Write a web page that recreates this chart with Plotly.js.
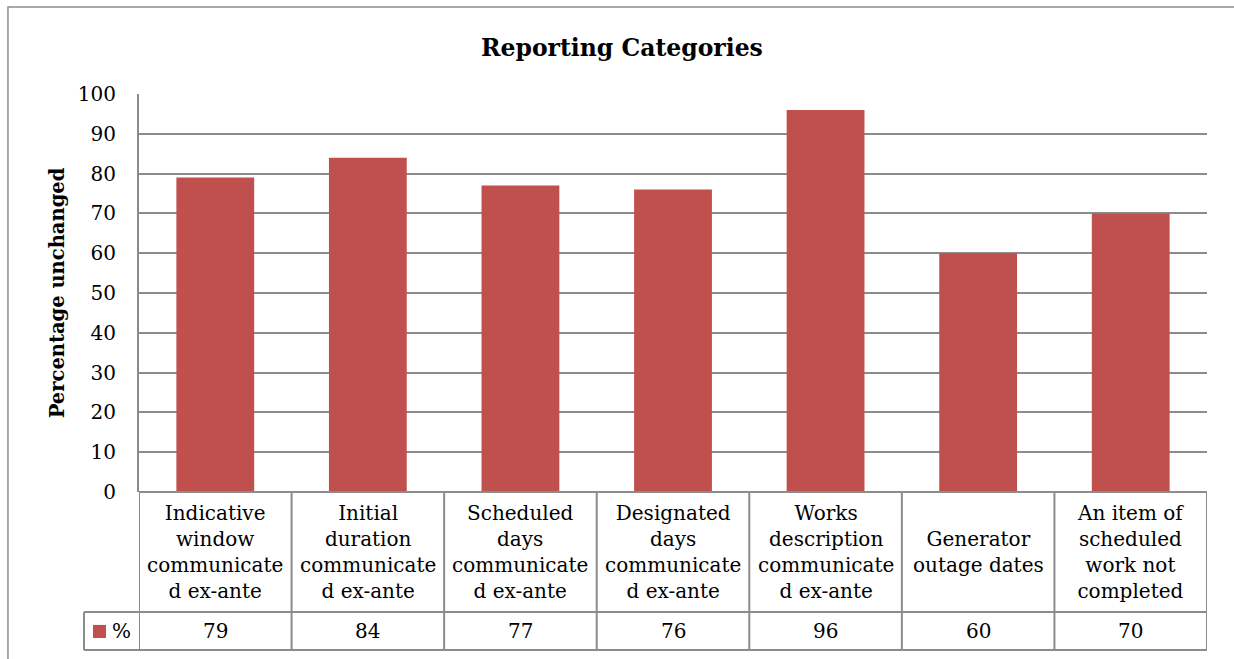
<!DOCTYPE html>
<html>
<head>
<meta charset="utf-8">
<script src="https://cdn.plot.ly/plotly-3.0.1.min.js"></script>
<style>
  html, body { margin: 0; padding: 0; background: #fff; }
  #chart { width: 1234px; height: 659px; }
</style>
</head>
<body>
<div id="chart"></div>
<script>
// --- Chart data ---
const categories = [
    'Indicative<br>window<br>communicate<br>d ex-ante',
    'Initial<br>duration<br>communicate<br>d ex-ante',
    'Scheduled<br>days<br>communicate<br>d ex-ante',
    'Designated<br>days<br>communicate<br>d ex-ante',
    'Works<br>description<br>communicate<br>d ex-ante',
    'Generator<br>outage dates',
    'An item of<br>scheduled<br>work not<br>completed'
];
const values = [79, 84, 77, 76, 96, 60, 70];
const seriesName = '%';
const yTicks = [0, 10, 20, 30, 40, 50, 60, 70, 80, 90, 100];

const barColor = '#C0504D';
const lineColor = '#8c8c8c';
const font = 'DejaVu Serif, serif';

// --- Table geometry (paper coordinates below the plot) ---
const rowSplit = -0.3015;   // between label row and value row
const tableBottom = -0.397;
const legendLeft = -0.0515;

const xIdx = categories.map((c, i) => i);

const trace = {
    x: xIdx,
    y: values,
    type: 'bar',
    name: seriesName,
    marker: { color: barColor },
    width: 0.51,
    hoverinfo: 'y'
};

// --- Shapes: outer frame, table grid, legend key ---
const shapes = [];
shapes.push({ type: 'rect', xref: 'paper', yref: 'paper',
    x0: -0.1227, x1: 1.2, y0: -0.6, y1: 1.2186,
    line: { color: lineColor, width: 1.5 } });

// vertical column borders
for (let i = 0; i <= categories.length; i++) {
    shapes.push({ type: 'line', xref: 'x', yref: 'paper',
        x0: i - 0.5, x1: i - 0.5, y0: tableBottom, y1: 0,
        line: { color: lineColor, width: 2 } });
}
// horizontal table lines
[0, rowSplit, tableBottom].forEach(yy => {
    shapes.push({ type: 'line', xref: 'paper', yref: 'paper',
        x0: yy === 0 ? 0 : legendLeft, x1: 1, y0: yy, y1: yy,
        line: { color: lineColor, width: 2 } });
});
// legend cell left border
shapes.push({ type: 'line', xref: 'paper', yref: 'paper',
    x0: legendLeft, x1: legendLeft, y0: tableBottom, y1: rowSplit,
    line: { color: lineColor, width: 2 } });
// legend key
shapes.push({ type: 'rect', xref: 'paper', yref: 'paper',
    x0: -0.0431, x1: -0.0309, y0: -0.3668, y1: -0.334,
    fillcolor: barColor, line: { width: 0 } });

// --- Annotations: category labels, values, legend text ---
const annotations = [];
categories.forEach((c, i) => {
    annotations.push({ x: i, y: rowSplit / 2, xref: 'x', yref: 'paper',
        text: c, showarrow: false, xanchor: 'center', yanchor: 'middle',
        font: { family: font, size: 20, color: '#000' } });
    annotations.push({ x: i, y: (rowSplit + tableBottom) / 2, xref: 'x', yref: 'paper',
        text: String(values[i]), showarrow: false, xanchor: 'center', yanchor: 'middle',
        font: { family: font, size: 20, color: '#000' } });
});
annotations.push({ x: -0.0272, y: (rowSplit + tableBottom) / 2, xref: 'paper', yref: 'paper',
    text: seriesName, showarrow: false, xanchor: 'left', yanchor: 'middle',
    font: { family: font, size: 20, color: '#000' } });

const layout = {
    width: 1234,
    height: 659,
    margin: { l: 139, r: 27, t: 94, b: 167 },
    paper_bgcolor: '#fff',
    plot_bgcolor: '#fff',
    showlegend: false,
    title: {
        text: '<b>Reporting Categories</b>',
        x: 0.504, xref: 'container',
        y: 0.928, yref: 'container', yanchor: 'middle',
        font: { family: font, size: 23.5, color: '#000' }
    },
    xaxis: {
        range: [-0.5, categories.length - 0.5],
        showticklabels: false,
        showgrid: false,
        zeroline: false,
        showline: false,
        fixedrange: true
    },
    yaxis: {
        range: [0, 100],
        tickvals: yTicks,
        ticks: '',
        ticklabelstandoff: 17,
        showgrid: true,
        gridcolor: lineColor,
        gridwidth: 2,
        zeroline: false,
        showline: true,
        linecolor: lineColor,
        linewidth: 2,
        tickfont: { family: font, size: 20, color: '#000' },
        title: {
            text: '<b>Percentage unchanged</b>',
            standoff: 8,
            font: { family: font, size: 19.5, color: '#000' }
        },
        fixedrange: true
    },
    shapes: shapes,
    annotations: annotations
};

Plotly.newPlot('chart', [trace], layout, { displayModeBar: false, staticPlot: true });
</script>
</body>
</html>
